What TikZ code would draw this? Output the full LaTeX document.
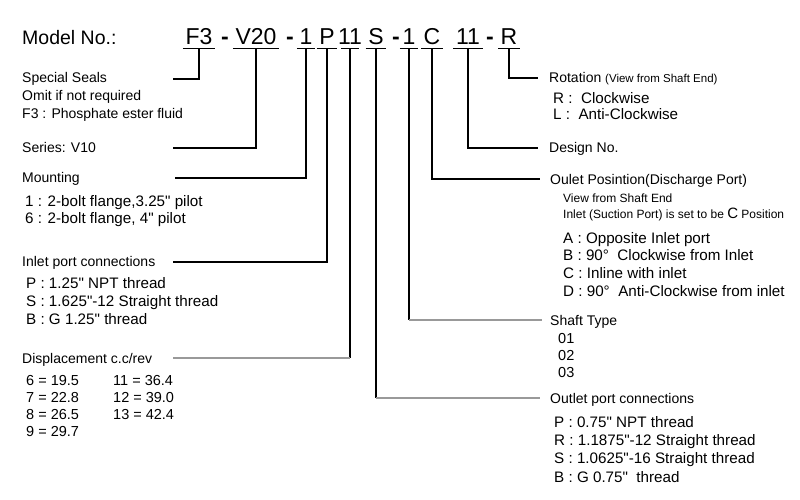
\documentclass[tikz,border=0pt]{standalone}
\usepackage{fontspec}
\setmainfont{Liberation Sans}[Ligatures=TeXOff]
\usepackage{tikz}
\usetikzlibrary{calc}
\newcommand{\smallpart}[1]{{\fontsize{11.5}{13}\selectfont #1}}
\tikzset{
	every node/.style={
		font=\fontsize{14}{16}\selectfont,
		inner sep=0pt,
		anchor=west,
		text height=10pt,
		text depth=0pt
	},
	code/.style={
		font=\fontsize{23}{26}\selectfont,
		anchor=base,
		inner xsep=2.5pt,
		inner ysep=3pt
	},
	item/.style={
		font=\fontsize{15.2}{18}\selectfont,
		text height=10.9pt
	},
	value/.style={
		font=\fontsize{14.5}{17}\selectfont,
		text height=10.4pt
	},
	small/.style={
		font=\fontsize{12}{14}\selectfont,
		text height=8.6pt
	},
	lead/.style={
		line width=1.1pt
	},
	faint/.style={
		line width=1.1pt,
		color=black!40
	}
}

\begin{document}
\begin{tikzpicture}[x=1pt,y=-1pt]
	\useasboundingbox (0,0) rectangle (800,500);
	
	\node[font=\fontsize{19.5}{22}\selectfont, anchor=base west] (model) at (22,45) {Model No.:};
	
	\node[code] (f3) at (199,45) {F3};
	\node[code] (v20) at (256,45) {V20};
	\node[code] (mnt) at (306,45) {1};
	\node[code] (pin) at (327,45) {P};
	\node[code, inner xsep=-3.5pt] (dsp) at (350,45) {11};
	\node[code] (pout) at (376,45) {S};
	\node[code] (shf) at (409,45) {1};
	\node[code] (opos) at (432,45) {C};
	\node[code] (dsg) at (468,45) {11};
	\node[code] (rot) at (509,45) {R};
	\foreach \x [count=\i] in {225,290,396,490}
		\node[code] (dash\i) at (\x,45) {\textbf{-}};
	
	\foreach \n in {f3,v20,mnt,pin,dsp,pout,shf,opos,dsg,rot}
		\draw[lead] (\n.south west) -- (\n.south east);
	
	% left side
	\node (seals) at (22,78) {Special Seals};
	\node (seals-1) at (22,95.5) {Omit if not required};
	\node (seals-2) at (22,113) {F3 : Phosphate ester fluid};
	\coordinate (seals-end) at (173,79);
	\draw[lead] (f3.south) |- (seals-end);
	
	\node (series) at (22,147) {Series: V10};
	\coordinate (series-end) at (173,148);
	\draw[lead] (v20.south) |- (series-end);
	
	\node (mount) at (22,177) {Mounting};
	\coordinate (mount-end) at (175,178);
	\draw[lead] (mnt.south) |- (mount-end);
	\foreach \txt/\y [count=\i] in {{1 : 2-bolt flange,3.25" pilot}/201,{6 : 2-bolt flange, 4" pilot}/218}
		\node[item] (mount-\i) at (25,\y) {\txt};
	
	\node (inlet) at (22,261) {Inlet port connections};
	\coordinate (inlet-end) at (173,262);
	\draw[lead] (pin.south) |- (inlet-end);
	\foreach \txt/\y [count=\i] in {{P : 1.25" NPT thread}/283,{S : 1.625"-12 Straight thread}/301,{B : G 1.25" thread}/319}
		\node[item] (inlet-\i) at (26,\y) {\txt};
	
	\node (disp) at (22,358) {Displacement c.c/rev};
	\coordinate (disp-end) at (173,358);
	\draw[lead] (dsp.south) -- (dsp.south |- disp-end) coordinate (disp-turn);
	\draw[faint] (disp-turn) -- (disp-end);
	\foreach \txt/\y [count=\i] in {{6 = 19.5}/380,{7 = 22.8}/397,{8 = 26.5}/414,{9 = 29.7}/431}
		\node[value] (dispa-\i) at (26,\y) {\txt};
	\foreach \txt/\y [count=\i] in {{11 = 36.4}/380,{12 = 39.0}/397,{13 = 42.4}/414}
		\node[value] (dispb-\i) at (113,\y) {\txt};
	
	% right side
	\node (rotation) at (549,78) {Rotation \smallpart{(View from Shaft End)}};
	\draw[lead, shorten >=11pt] (rot.south) |- (rotation.west);
	\node[item] (rotation-1) at (553,98) {R :\ \ Clockwise};
	\node[item] (rotation-2) at (553,114) {L :\ \ Anti-Clockwise};
	
	\node (design) at (549,148) {Design No.};
	\draw[lead, shorten >=11pt] (dsg.south) |- (design.west);
	
	\node (outpos) at (550,179) {Oulet Posintion(Discharge Port)};
	\draw[lead, shorten >=10pt] (opos.south) |- (outpos.west);
	\node[small] (outpos-1) at (563,198) {View from Shaft End};
	\node[small] (outpos-2) at (563,214) {Inlet (Suction Port) is set to be {\fontsize{15}{17}\selectfont C} Position};
	\foreach \txt/\y [count=\i] in {{A : Opposite Inlet port}/238,{B : 90°\ \ Clockwise from Inlet}/255,{C : Inline with inlet}/273,{D : 90°\ \ Anti-Clockwise from inlet}/291}
		\node[item] (outpos-\i-opt) at (563,\y) {\txt};
	
	\node (shaft) at (550,320) {Shaft Type};
	\draw[lead] (shf.south) -- (shf.south |- shaft.west) coordinate (shaft-turn);
	\draw[faint, shorten >=8pt] (shaft-turn) -- (shaft.west);
	\foreach \txt/\y [count=\i] in {01/338,02/355,03/372}
		\node[value] (shaft-\i) at (558,\y) {\txt};
	
	\node (outlet) at (550,398) {Outlet port connections};
	\draw[lead] (pout.south) -- (pout.south |- outlet.west) coordinate (outlet-turn);
	\draw[faint, shorten >=10pt] (outlet-turn) -- (outlet.west);
	\foreach \txt/\y [count=\i] in {{P : 0.75" NPT thread}/422,{R : 1.1875"-12 Straight thread}/440,{S : 1.0625"-16 Straight thread}/458,{B : G 0.75"\ \ thread}/477}
		\node[item] (outlet-\i) at (554,\y) {\txt};
	
\end{tikzpicture}
\end{document}
